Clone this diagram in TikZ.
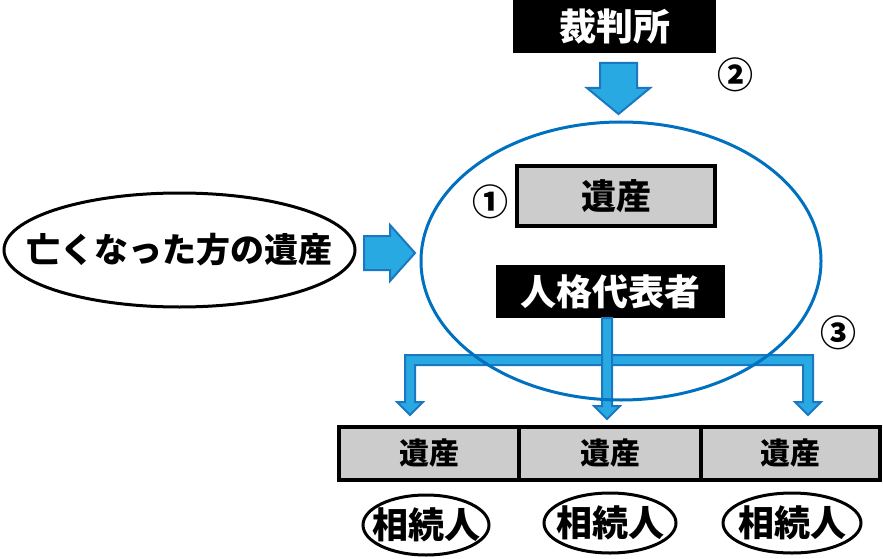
\documentclass[tikz,border=0pt]{standalone}
\usepackage{fontspec}
\newfontfamily\jp{Noto Sans CJK JP Black}
\usetikzlibrary{shapes.geometric}
\definecolor{skyfill}{HTML}{29A9E1}
\definecolor{skyline}{HTML}{1A78C2}
\definecolor{ringblue}{HTML}{0070C0}
\definecolor{boxgray}{HTML}{CCCCCC}
\tikzset{
  blackbox/.style={rectangle, fill=black, text=white, inner sep=0pt, font=\jp},
  graybox/.style={rectangle, fill=boxgray, draw=black, line width=4pt, inner sep=0pt, font=\jp},
  oval/.style={ellipse, draw=black, line width=3pt, inner sep=0pt, fill=white},
  blockarrow/.style={fill=skyfill, draw=skyline, line width=2pt, line join=miter},
  num/.style={inner sep=0pt, font=\jp\fontsize{36}{36}\selectfont}
}
\begin{document}
\begin{tikzpicture}[x=1pt,y=-1pt]
\useasboundingbox (0,0) rectangle (883,559);
% court
\node[blackbox, minimum width=203pt, minimum height=53pt, font=\jp\fontsize{37}{37}\selectfont] (court) at (614.5,26.5) {裁判所};
% down block arrow
\draw[blockarrow] (600,63) -- (637,63) -- (637,88) -- (650,88) -- (618.5,114) -- (587,88) -- (600,88) -- cycle;
\node[num] (n2) at (735,75) {②};
% deceased estate
\node[oval, minimum width=351pt, minimum height=114pt] (dec) at (179.5,250) {};
\node[inner sep=0pt, font=\jp\fontsize{34}{34}\selectfont] (dect) at (dec.center) {亡くなった方の遺産};
% right block arrow
\draw[blockarrow] (364,236) -- (390,236) -- (390,225) -- (415,253) -- (390,281) -- (390,270) -- (364,270) -- cycle;
% estate box
\node[graybox, minimum width=198pt, minimum height=60pt, font=\jp\fontsize{35}{35}\selectfont] (est) at (616,196) {遺産};
\node[num] (n1) at (490,202) {①};
% representative
\node[blackbox, minimum width=229pt, minimum height=53pt, font=\jp\fontsize{36}{36}\selectfont] (rep) at (610.5,291.5) {人格代表者};
% bracket arrows
\draw[blockarrow] (405,355) -- (813,355) -- (813,402) -- (821,402) -- (808,415) -- (795,402) -- (803,402) -- (803,365) -- (415,365) -- (415,402) -- (423,402) -- (410,415) -- (397,402) -- (405,402) -- cycle;
\draw[blockarrow] (602,318) -- (612,318) -- (612,406) -- (620,406) -- (607,419) -- (594,406) -- (602,406) -- cycle;
% big ellipse
\node[ellipse, draw=ringblue, line width=3pt, minimum width=400pt, minimum height=278pt, inner sep=0pt] (ring) at (621,261) {};
\node[num] (n3) at (838,333) {③};
% bottom estate boxes
\node[graybox, minimum width=180pt, minimum height=53pt, font=\jp\fontsize{30}{30}\selectfont] (e1) at (429,453.5) {遺産};
\node[graybox, minimum width=182pt, minimum height=53pt, font=\jp\fontsize{30}{30}\selectfont] (e2) at (610,453.5) {遺産};
\node[graybox, minimum width=179pt, minimum height=53pt, font=\jp\fontsize{30}{30}\selectfont] (e3) at (790.5,453.5) {遺産};
% heirs
\node[oval, minimum width=126pt, minimum height=60pt] (h1) at (426,525) {};
\node[oval, minimum width=132pt, minimum height=60pt] (h2) at (610,523) {};
\node[oval, minimum width=138pt, minimum height=60pt] (h3) at (792,523) {};
\node[inner sep=0pt, font=\jp\fontsize{36}{36}\selectfont] (h1t) at (h1.center) {相続人};
\node[inner sep=0pt, font=\jp\fontsize{36}{36}\selectfont] (h2t) at (h2.center) {相続人};
\node[inner sep=0pt, font=\jp\fontsize{36}{36}\selectfont] (h3t) at (h3.center) {相続人};
\end{tikzpicture}
\end{document}
